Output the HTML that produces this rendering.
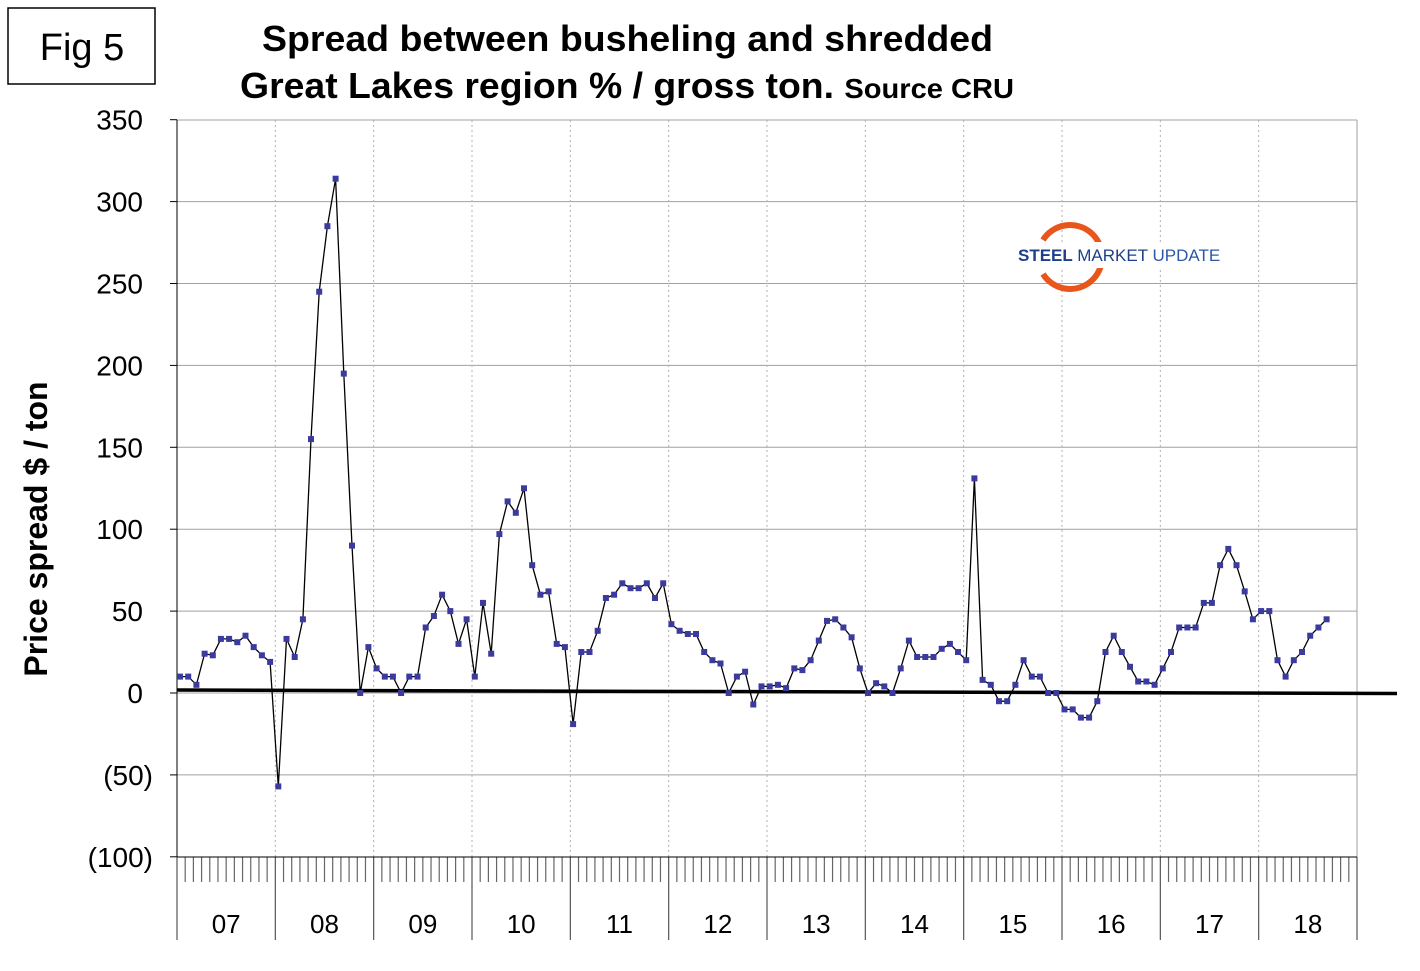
<!DOCTYPE html>
<html><head><meta charset="utf-8"><style>
body{margin:0;background:#fff;width:1420px;height:971px;overflow:hidden}
svg{display:block;font-family:"Liberation Sans",Arial,sans-serif}
</style></head><body>
<svg id="s" width="1420" height="971" xmlns="http://www.w3.org/2000/svg">
<rect x="0" y="0" width="1420" height="971" fill="#fff"/>
<rect x="8" y="8" width="147" height="76" fill="#fff" stroke="#000" stroke-width="1.5"/>
<text x="82" y="60" font-size="38" text-anchor="middle">Fig 5</text>
<text x="262" y="51" font-size="36" font-weight="bold" textLength="731" lengthAdjust="spacingAndGlyphs">Spread between busheling and shredded</text>
<text x="240" y="98" font-size="36" font-weight="bold" textLength="774" lengthAdjust="spacingAndGlyphs">Great Lakes region % / gross ton. <tspan font-size="28">Source CRU</tspan></text>
<text transform="translate(47,529) rotate(-90)" font-size="32" font-weight="bold" text-anchor="middle">Price spread $ / ton</text>
<g id="g"></g>
<g>
<path d="M1043 240 A32 32 0 1 1 1043 274" fill="none" stroke="#e8561c" stroke-width="6"/>
<rect x="1016" y="242" width="210" height="26" fill="#fff"/>
<text x="1018" y="261" font-size="17" font-weight="bold" fill="#1d3f8a">STEEL <tspan font-weight="normal">MARKET</tspan><tspan font-weight="normal" fill="#2d56a8"> UPDATE</tspan></text>
</g>
</svg>
<script>
var g=document.getElementById('g'),h='';
var L=177,R=1357,T=120,B=857,py=v=>693-v*1.638;
for(var v=350;v>=-100;v-=50){var y=py(v);
 if(v<350&&v>-100)h+='<line x1="'+L+'" x2="'+R+'" y1="'+y+'" y2="'+y+'" stroke="#a0a0a0" stroke-width="1"/>';
 h+='<line x1="170" x2="'+L+'" y1="'+y+'" y2="'+y+'" stroke="#000"/>';
 var s=v<0?'('+(-v)+')':v;h+='<text x="'+(v<0?153:143)+'" y="'+(y+10)+'" font-size="28" text-anchor="end">'+s+'</text>';}
h+='<line x1="'+L+'" x2="'+R+'" y1="'+T+'" y2="'+T+'" stroke="#a0a0a0"/>';
h+='<line x1="'+R+'" x2="'+R+'" y1="'+T+'" y2="'+B+'" stroke="#a0a0a0"/>';
var yw=(R-L)/12,mw=yw/12;
for(var i=1;i<12;i++){var x=L+i*yw;h+='<line x1="'+x+'" x2="'+x+'" y1="'+T+'" y2="'+B+'" stroke="#b0b0b0" stroke-dasharray="2,3"/>';}
for(var i=0;i<=12;i++){var x=L+i*yw;h+='<line x1="'+x+'" x2="'+x+'" y1="'+B+'" y2="940" stroke="#555" stroke-width="1.2"/>';
 if(i<12){for(var m=1;m<12;m++){var xx=x+m*mw;h+='<line x1="'+xx+'" x2="'+xx+'" y1="'+B+'" y2="882" stroke="#666" stroke-width="1.2"/>';}
 h+='<text x="'+(x+yw/2)+'" y="933" font-size="26" text-anchor="middle">'+String(7+i).padStart(2,'0')+'</text>';}}
h+='<line x1="'+L+'" x2="'+L+'" y1="'+T+'" y2="'+B+'" stroke="#000"/>';
h+='<line x1="'+L+'" x2="'+R+'" y1="'+B+'" y2="'+B+'" stroke="#000"/>';
h+='<line x1="177" x2="1397" y1="690" y2="693.5" stroke="#000" stroke-width="3.5"/>';
var d=[10,10,5,24,23,33,33,31,35,28,23,19,-57,33,22,45,155,245,285,314,195,90,0,28,15,10,10,0,10,10,40,47,60,50,30,45,10,55,24,97,117,110,125,78,60,62,30,28,-19,25,25,38,58,60,67,64,64,67,58,67,42,38,36,36,25,20,18,0,10,13,-7,4,4,5,3,15,14,20,32,44,45,40,34,15,0,6,4,0,15,32,22,22,22,27,30,25,20,131,8,5,-5,-5,5,20,10,10,0,0,-10,-10,-15,-15,-5,25,35,25,16,7,7,5,15,25,40,40,40,55,55,78,88,78,62,45,50,50,20,10,20,25,35,40,45];
var p='';d.forEach((v,i)=>{p+=(i?'L':'M')+(180+i*8.19).toFixed(1)+' '+py(v).toFixed(1)});
h+='<path d="'+p+'" fill="none" stroke="#000" stroke-width="1.3"/>';
d.forEach((v,i)=>{h+='<rect x="'+(177+i*8.19).toFixed(1)+'" y="'+(py(v)-3).toFixed(1)+'" width="6" height="6" fill="#3a3aa0"/>'});
g.innerHTML=h;
</script>
</body></html>
